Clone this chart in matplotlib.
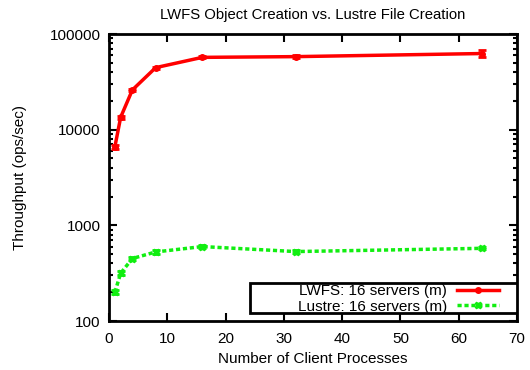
import matplotlib
matplotlib.use('Agg')
import matplotlib.pyplot as plt
from matplotlib.patches import Rectangle
from matplotlib.ticker import LogLocator, NullFormatter, FixedLocator

plt.rcParams['font.family'] = ['Liberation Sans', 'DejaVu Sans']
plt.rcParams['font.size'] = 11

# data
clients = [1, 2, 4, 8, 16, 32, 64]
lwfs = [6600, 13500, 26000, 44500, 57000, 58000, 62500]
lwfs_err = [300, 500, 600, 1200, 1500, 2000, 5000]
lustre = [200, 316, 450, 527, 600, 532, 575]
lustre_err = [10, 15, 15, 20, 20, 15, 15]

x_ticks = [0, 10, 20, 30, 40, 50, 60, 70]
y_ticks = [100, 1000, 10000, 100000]

fig = plt.figure(figsize=(5.3, 3.7), dpi=100)
ax = fig.add_axes([0.2057, 0.1324, 0.7698, 0.7757])

e1 = ax.errorbar(clients, lwfs, yerr=lwfs_err, color='#ff0000', lw=2.5, marker='o', ms=4,
                 capsize=3, elinewidth=2, capthick=2, label='LWFS: 16 servers (m)')
e2 = ax.errorbar(clients, lustre, yerr=lustre_err, color='#11ee11', lw=2.5, ls=(0, (1.2, 0.8)),
                 marker='X', ms=5, capsize=3, elinewidth=2, capthick=2, label='Lustre: 16 servers (m)')

ax.set_yscale('log')
ax.set_xlim(0, 70)
ax.set_ylim(100, 100000)
ax.xaxis.set_major_locator(FixedLocator(x_ticks))
ax.yaxis.set_major_locator(FixedLocator(y_ticks))
ax.set_yticklabels([str(v) for v in y_ticks])
ax.yaxis.set_minor_locator(LogLocator(base=10, subs=range(2, 10)))
ax.yaxis.set_minor_formatter(NullFormatter())

ax.tick_params(which='both', direction='in', top=True, right=True, width=1.5)
ax.tick_params(which='major', length=6)
ax.tick_params(axis='x', which='major', pad=8)
ax.tick_params(axis='y', which='major', pad=6)
ax.tick_params(which='minor', length=3)
ax.tick_params(axis='x', which='minor', length=0)
for s in ax.spines.values():
    s.set_linewidth(2)

ax.set_title('LWFS Object Creation vs. Lustre File Creation', fontsize=10.7, pad=11)
ax.set_xlabel('Number of Client Processes', fontsize=11, labelpad=4)
ax.set_ylabel('Throughput (ops/sec)', labelpad=16)

# gnuplot style key: text right aligned, sample on the right, wide box
ax.add_patch(Rectangle((0.346, 0.028), 0.654, 0.104, transform=ax.transAxes,
                       fill=True, facecolor='white', edgecolor='black', lw=2, zorder=4))
leg = ax.legend([e1.lines[0], e2.lines[0]], [e1.get_label(), e2.get_label()],
                loc='lower right', bbox_to_anchor=(0.956, 0.026), markerfirst=False,
                frameon=False, borderaxespad=0, handlelength=2.75, borderpad=0,
                labelspacing=0.1, handletextpad=0.65)
leg.set_zorder(5)
for t in leg.get_texts():
    t.set_ha('right')

fig.savefig('out.png', dpi=100)
